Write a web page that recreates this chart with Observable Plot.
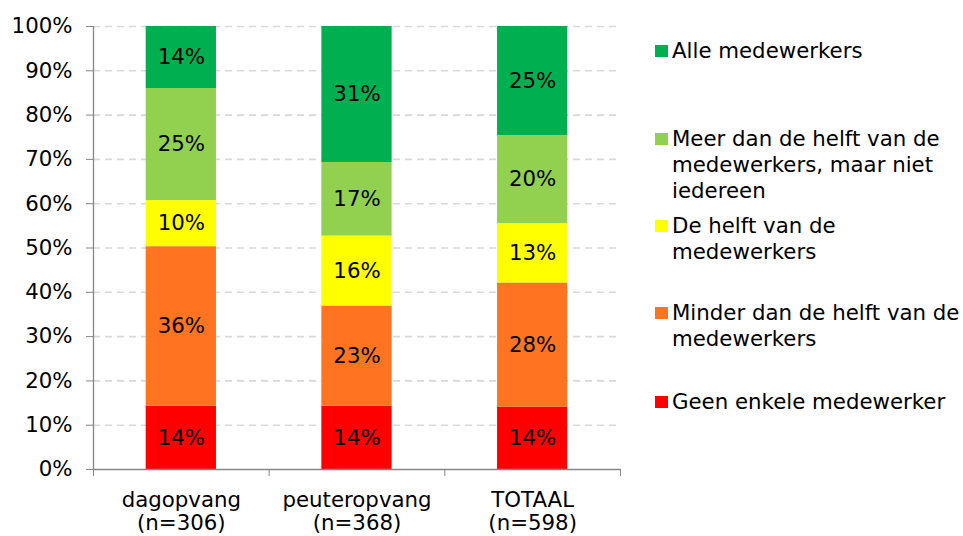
<!DOCTYPE html>
<html>
<head>
<meta charset="utf-8">
<script src="https://cdn.jsdelivr.net/npm/d3@7"></script>
<script src="https://cdn.jsdelivr.net/npm/@observablehq/plot@0.6"></script>
<style>
  body { margin: 0; background: white; font-family: "DejaVu Sans", Verdana, sans-serif; }
  #wrap { position: relative; width: 963px; height: 536px; }
  #chart { position: absolute; left: 0; top: 0; }
  #legend { position: absolute; left: 655px; top: 0; width: 308px; height: 536px; }
  .item { position: absolute; left: 0; display: flex; align-items: flex-start; font-size: 21.3px; line-height: 26px; color: #000; white-space: nowrap; }
  .sw { width: 12.5px; height: 12.5px; margin-top: 6.75px; margin-right: 4.5px; flex: none; }
</style>
</head>
<body>
<div id="wrap"><div id="chart"></div><div id="legend"></div></div>
<script>
// Categories and sample sizes
const categories = ["dagopvang", "peuteropvang", "TOTAAL"];
const sampleLabels = ["(n=306)", "(n=368)", "(n=598)"];

// Response levels (bottom to top of stack)
const levels = [
  "Geen enkele medewerker",
  "Minder dan de helft van de medewerkers",
  "De helft van de medewerkers",
  "Meer dan de helft van de medewerkers, maar niet iedereen",
  "Alle medewerkers"
];
const levelColors = ["#FF0000", "#FF7421", "#FFFF00", "#92D050", "#00B050"];

// Series values (% per category)
const geen   = [14.3, 14.3, 14.1];
const minder = [36.0, 22.6, 28.0];
const helft  = [10.4, 15.8, 13.4];
const meer   = [25.3, 16.6, 19.9];
const alle   = [14.0, 30.7, 24.6];

// Legend text lines (top to bottom)
const legendLines = [
  ["Alle medewerkers"],
  ["Meer dan de helft van de", "medewerkers, maar niet", "iedereen"],
  ["De helft van de", "medewerkers"],
  ["Minder dan de helft van de", "medewerkers"],
  ["Geen enkele medewerker"]
];
const legendTops = [38, 126, 213, 300, 389];

const series = [geen, minder, helft, meer, alle];
const rows = [];
categories.forEach((c, i) => {
  series.forEach((s, k) => {
    rows.push({cat: c, i, level: levels[k], value: s[i]});
  });
});

const yTicks = d3.range(0, 101, 10);
const FS = 21.3;

const chart = Plot.plot({
  width: 640,
  height: 536,
  marginLeft: 93,
  marginRight: 20,
  marginTop: 26,
  marginBottom: 67,
  style: {fontFamily: "DejaVu Sans, Verdana, sans-serif", fontSize: FS + "px", color: "#000", background: "white", overflow: "visible"},
  x: {domain: [0, categories.length]},
  y: {domain: [0, 100]},
  color: {domain: levels, range: levelColors},
  marks: [
    Plot.gridY(yTicks.filter(d => d > 0), {stroke: "#d9d9d9", strokeOpacity: 1, strokeWidth: 1.6, strokeDasharray: "7,5"}),
    Plot.rectY(rows, {
      x1: d => d.i + 0.3,
      x2: d => d.i + 0.7,
      y: "value",
      fill: "level"
    }),
    Plot.text(rows, Plot.stackY({
      x: d => d.i + 0.5,
      y: "value",
      text: d => Math.round(d.value) + "%",
      fill: "#000",
      fontSize: FS
    })),
    Plot.ruleX([0], {stroke: "#868686", strokeWidth: 1.3}),
    Plot.ruleY([0], {stroke: "#868686", strokeWidth: 1.3}),
    Plot.axisY({ticks: yTicks, tickFormat: d => d + "%", tickSize: 7, tickPadding: 14, stroke: "#868686", fill: "#000", fontSize: FS, label: null}),
    Plot.axisX({ticks: d3.range(categories.length + 1), tickFormat: () => "", tickSize: 7, stroke: "#868686", label: null}),
    Plot.axisX({
      ticks: categories.map((_, i) => i + 0.5),
      tickFormat: d => categories[Math.floor(d)] + "\n" + sampleLabels[Math.floor(d)],
      tickSize: 0, tickPadding: 21, lineHeight: 1.08, fill: "#000", fontSize: FS, label: null
    })
  ]
});
document.getElementById("chart").appendChild(chart);

const legend = document.getElementById("legend");
const order = [4, 3, 2, 1, 0];
order.forEach((k, j) => {
  const item = document.createElement("div");
  item.className = "item";
  item.style.top = legendTops[j] + "px";
  const sw = document.createElement("div");
  sw.className = "sw";
  sw.style.background = levelColors[k];
  const txt = document.createElement("div");
  txt.innerHTML = legendLines[j].join("<br>");
  item.appendChild(sw);
  item.appendChild(txt);
  legend.appendChild(item);
});
</script>
</body>
</html>
